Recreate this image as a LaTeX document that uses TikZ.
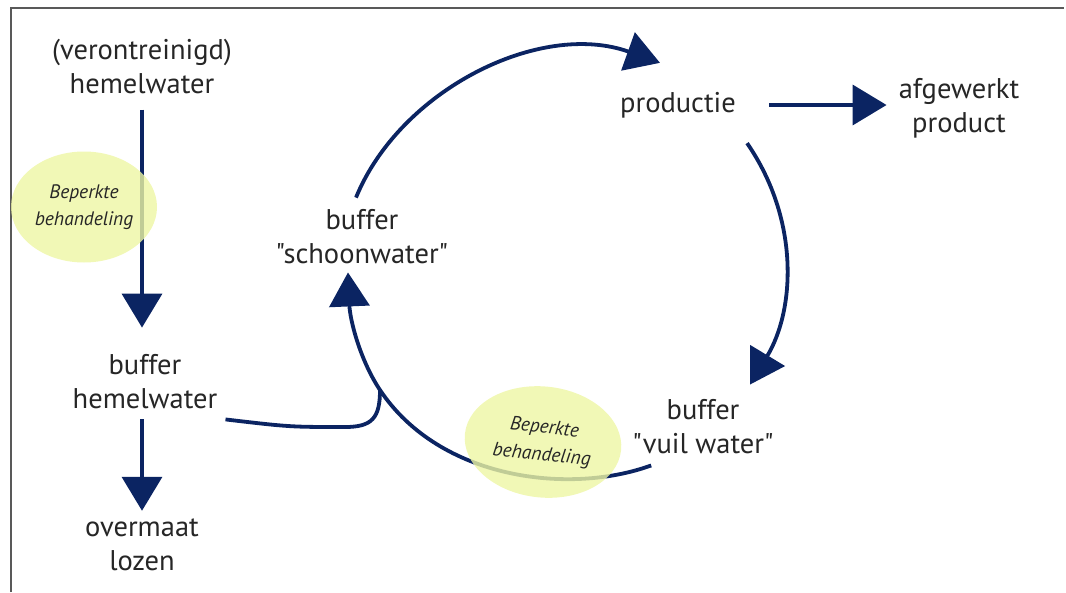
\documentclass[tikz,border=0pt]{standalone}
\usepackage{fontspec}
\setmainfont{PT Sans}[Ligatures=TeXOff]
\usetikzlibrary{arrows.meta,shapes.geometric}
\definecolor{navy}{HTML}{0B2462}
\definecolor{lime}{HTML}{EEF6A4}
\definecolor{ink}{HTML}{262626}

\begin{document}
\begin{tikzpicture}[x=1pt,y=-1pt,
    lbl/.style={align=center,inner sep=0pt,text=ink,font=\fontsize{28.5}{34}\selectfont},
    flow/.style={draw=navy,line width=3.8pt,-{Triangle[length=34pt,width=40pt]}},
    pipe/.style={draw=navy,line width=3.8pt},
    blob/.style={ellipse,fill=lime,fill opacity=0.8,text opacity=1,inner sep=0pt,
      align=center,text=ink,font=\itshape\fontsize{19.5}{27}\selectfont}]
  \useasboundingbox (0,0) rectangle (1066,592);
  \draw[gray!70!black,line width=1.5pt] (11,592) -- (11,8) -- (1064,8);

  % the stations
  \node[lbl] (rain)  at (142,67)  {(verontreinigd)\\hemelwater};
  \node[lbl] (hbuf)  at (145,382) {buffer\\hemelwater};
  \node[lbl] (spill) at (142,545) {overmaat\\lozen};
  \node[lbl] (sbuf)  at (362,237) {buffer\\"schoonwater"};
  \node[lbl] (prod)  at (678,105) {productie};
  \node[lbl] (afg)   at (959,108) {afgewerkt\\product};
  \node[lbl] (vbuf)  at (703,427) {buffer\\"vuil water"};
  \coordinate (join) at (380,390);

  % rain water line
  \draw[flow] ([yshift=-15pt]rain.south) -- ([yshift=27pt]rain.south |- hbuf.north);
  \draw[flow] ([yshift=-10pt]spill.north |- hbuf.south) -- ([yshift=8pt]spill.north);
  \draw[pipe] ([xshift=8pt,yshift=-10pt]hbuf.south east)
    .. controls (290,427) .. (345,427)
    .. controls (372,427) and (380,418) .. (join);

  % the loop
  \draw[flow] ([xshift=-6pt,yshift=12pt]sbuf.north)
    .. controls (400,90) and (540,20) .. ([xshift=-18pt,yshift=29pt]prod.north);
  \draw[flow] ([xshift=33pt]prod.east) -- ([xshift=-12pt]prod.east -| afg.west);
  \draw[flow] ([xshift=11pt,yshift=-25pt]prod.south east)
    .. controls (800,220) and (795,310) .. ([xshift=47pt,yshift=15pt]vbuf.north);
  \draw[flow] ([xshift=19pt,yshift=-11pt]vbuf.south west)
    .. controls (570,495) and (440,480) .. (join)
    .. controls (360,360) and (350,320) .. ([xshift=-14pt,yshift=-8pt]sbuf.south);

  % treatment
  \node[blob,minimum width=146pt,minimum height=111pt] (trA) at (84,207) {Beperkte\\behandeling};
  \node[blob,minimum width=157pt,minimum height=111pt,rotate=-6] (trB) at (543,442) {Beperkte\\behandeling};
\end{tikzpicture}
\end{document}
